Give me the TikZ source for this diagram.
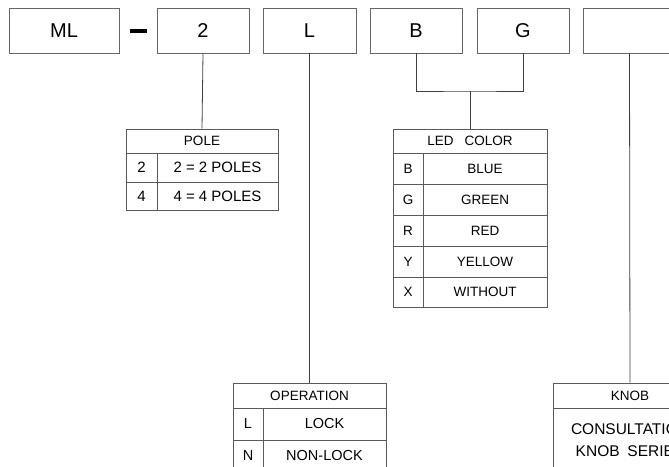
\documentclass[tikz,border=0pt]{standalone}
\usepackage{fontspec}
\setmainfont{Liberation Sans}
\begin{document}
\begin{tikzpicture}[x=1pt,y=-1pt,
  topbox/.style={draw=black!60,line width=0.9pt,minimum height=45pt,inner sep=0pt,font=\fontsize{20}{22}\selectfont},
  cellbox/.style={draw=black!65,line width=0.8pt,inner sep=0pt,font=\fontsize{14.5}{16}\selectfont},
  headbox/.style={cellbox,font=\fontsize{13.5}{15}\selectfont},
  ledbox/.style={cellbox,font=\fontsize{13.5}{15}\selectfont},
  conn/.style={draw=black!75,line width=0.8pt}]
\useasboundingbox (0,0) rectangle (669,466);
\clip (0,0) rectangle (669,466);
\fill[white] (0,0) rectangle (669,466);
% top boxes
\node[topbox,minimum width=110pt] (ml) at (64,30.5) {ML};
\node[fill=black,minimum width=17pt,minimum height=4.5pt,inner sep=0pt] (dash) at (138.5,30.8) {};
\node[topbox,minimum width=92pt] (two) at (203,30.5) {2};
\node[topbox,minimum width=93pt] (ll) at (309.5,30.5) {L};
\node[topbox,minimum width=92pt] (bb) at (416,30.5) {B};
\node[topbox,minimum width=92pt] (gg) at (523,30.5) {G};
\node[topbox,minimum width=93pt] (kk) at (629.5,30.5) {};
% POLE table
\node[headbox,minimum width=152pt,minimum height=24pt] (poleT) at (202,141) {POLE};
\node[cellbox,minimum width=31pt,minimum height=29pt,font=\fontsize{15}{16}\selectfont] (p2a) at (141.5,167.5) {2};
\node[cellbox,minimum width=121pt,minimum height=29pt,font=\fontsize{15}{16}\selectfont] (p2b) at (217.5,167.5) {2 = 2 POLES};
\node[cellbox,minimum width=31pt,minimum height=28pt,font=\fontsize{15}{16}\selectfont] (p4a) at (141.5,196) {4};
\node[cellbox,minimum width=121pt,minimum height=28pt,font=\fontsize{15}{16}\selectfont] (p4b) at (217.5,196) {4 = 4 POLES};
% LED table
\node[headbox,minimum width=154pt,minimum height=24pt] (ledT) at (470,141) {LED\hspace{0.8em}COLOR};
\node[ledbox,minimum width=30pt,minimum height=31pt] (lba) at (408,168.5) {B};
\node[ledbox,minimum width=124pt,minimum height=31pt] (lbb) at (485,168.5) {BLUE};
\node[ledbox,minimum width=30pt,minimum height=31pt] (lga) at (408,199.5) {G};
\node[ledbox,minimum width=124pt,minimum height=31pt] (lgb) at (485,199.5) {GREEN};
\node[ledbox,minimum width=30pt,minimum height=31pt] (lra) at (408,230.5) {R};
\node[ledbox,minimum width=124pt,minimum height=31pt] (lrb) at (485,230.5) {RED};
\node[ledbox,minimum width=30pt,minimum height=31pt] (lya) at (408,261.5) {Y};
\node[ledbox,minimum width=124pt,minimum height=31pt] (lyb) at (485,261.5) {YELLOW};
\node[ledbox,minimum width=30pt,minimum height=30pt] (lxa) at (408,292) {X};
\node[ledbox,minimum width=124pt,minimum height=30pt] (lxb) at (485,292) {WITHOUT};
% OPERATION table
\node[headbox,minimum width=153pt,minimum height=25pt] (opT) at (309.5,395.5) {OPERATION};
\node[cellbox,minimum width=30pt,minimum height=32pt] (ola) at (248,424) {L};
\node[cellbox,minimum width=123pt,minimum height=32pt] (olb) at (324.5,424) {LOCK};
\node[cellbox,minimum width=30pt,minimum height=32pt] (ona) at (248,456) {N};
\node[cellbox,minimum width=123pt,minimum height=32pt] (onb) at (324.5,456) {NON-LOCK};
% KNOB table
\node[headbox,minimum width=154pt,minimum height=25pt] (knT) at (630,395.5) {KNOB};
\node[cellbox,minimum width=154pt,minimum height=70pt] (knB) at (630,443) {};
\node[inner sep=0pt,align=center,font=\fontsize{15.5}{22}\selectfont] (knText) at (630,440) {CONSULTATION\\KNOB\hspace{0.5em}SERIES};
% connectors
\coordinate (jn) at (470,91);
\draw[conn] (two.south) -- (poleT.north);
\draw[conn] (ll.south) -- (opT.north);
\draw[conn] (bb.south) |- (jn) -| (gg.south);
\draw[conn] (jn) -- (ledT.north);
\draw[conn] (kk.south) -- (knT.north);
\end{tikzpicture}
\end{document}
